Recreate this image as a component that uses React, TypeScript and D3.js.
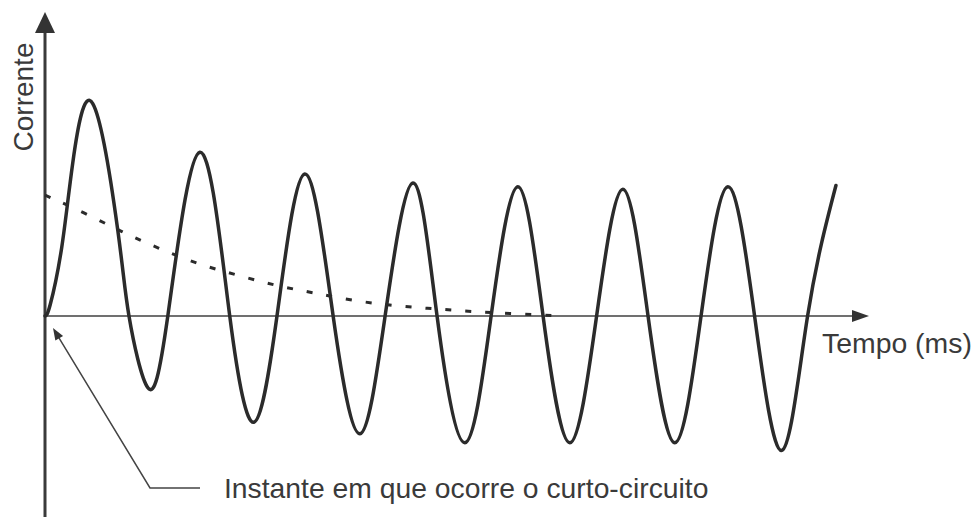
import React, { useEffect, useRef } from "react";
import * as d3 from "d3";

const width = 974;
const height = 517;

// tempo (ms) e corrente (pu)
const peakTimes = [9.1, 29.5, 49.5, 70.1, 90.1, 110.1, 130.1];
const peakValues = [1.66, 1.28, 1.11, 1.04, 1.01, 0.99, 1.01];
const troughTimes = [19.6, 39.8, 60.0, 80.0, 100.0, 120.0, 140.4];
const troughValues = [-0.56, -0.83, -0.92, -0.99, -0.99, -0.99, -1.05];
const fallingZeros = [16.0, 35.2, 54.9, 74.7, 94.9, 114.9, 135.2];
const risingZeros = [0, 23.4, 44.2, 64.8, 85.0, 105.1, 125.0, 145.3];
const extraTimes = [1.0, 3.2, 5.3, 13.9, 150.7];
const extraValues = [0.09, 0.54, 1.2, 0.66, 1.02];

// componente contínua (tracejada)
const dcTimes = [0, 7.6, 14.7, 21.5, 29.0, 36.6, 44.2, 51.4, 59.0, 67.0, 74.7, 82.5, 90.5, 99.0];
const dcValues = [0.945, 0.805, 0.656, 0.531, 0.406, 0.32, 0.234, 0.18, 0.117, 0.078, 0.055, 0.031, 0.016, 0];

const tMax = 157;
const iMin = -1.57;
const iMax = 2.375;

const xLabel = "Tempo (ms)";
const yLabel = "Corrente";
const note = "Instante em que ocorre o curto-circuito";

export default function App() {
  const ref = useRef<SVGSVGElement>(null);

  useEffect(() => {
    const svg = d3.select(ref.current);
    svg.selectAll("*").remove();

    const x = d3.scaleLinear().domain([0, tMax]).range([45, 869]);
    const y = d3.scaleLinear().domain([iMin, iMax]).range([height, 12]);

    const wave: [number, number][] = [
      ...peakTimes.map((t, i) => [t, peakValues[i]] as [number, number]),
      ...troughTimes.map((t, i) => [t, troughValues[i]] as [number, number]),
      ...fallingZeros.map(t => [t, 0] as [number, number]),
      ...risingZeros.map(t => [t, 0] as [number, number]),
      ...extraTimes.map((t, i) => [t, extraValues[i]] as [number, number]),
    ].sort((a, b) => a[0] - b[0]);

    const dc: [number, number][] = dcTimes.map((t, i) => [t, dcValues[i]]);

    const font = "'Liberation Sans', Arial, sans-serif";
    const ink = "#2b2b2b";
    const x0 = x(0);
    const y0 = y(0);

    // eixo x
    svg
      .append("line")
      .attr("x1", x0)
      .attr("x2", x(tMax) - 14)
      .attr("y1", y0)
      .attr("y2", y0)
      .attr("stroke", "#707070")
      .attr("stroke-width", 2);
    svg
      .append("path")
      .attr("d", `M${x(tMax)},${y0}L${x(tMax) - 17},${y0 - 6}L${x(tMax) - 17},${y0 + 6}Z`)
      .attr("fill", "#333");

    // eixo y
    svg
      .append("line")
      .attr("x1", x0)
      .attr("x2", x0)
      .attr("y1", y(iMin))
      .attr("y2", y(iMax) + 18)
      .attr("stroke", "#3a3a3a")
      .attr("stroke-width", 3);
    svg
      .append("path")
      .attr("d", `M${x0},${y(iMax)}L${x0 - 10},${y(iMax) + 21}L${x0 + 10},${y(iMax) + 21}Z`)
      .attr("fill", "#333");

    // componente contínua
    svg
      .append("path")
      .datum(dc)
      .attr("fill", "none")
      .attr("stroke", ink)
      .attr("stroke-width", 3)
      .attr("stroke-dasharray", "6 14")
      .attr(
        "d",
        d3
          .line<[number, number]>()
          .curve(d3.curveBasis)
          .x(d => x(d[0]))
          .y(d => y(d[1]))
      );

    // corrente de curto-circuito
    svg
      .append("path")
      .datum(wave)
      .attr("fill", "none")
      .attr("stroke", ink)
      .attr("stroke-width", 3.5)
      .attr("stroke-linejoin", "round")
      .attr("stroke-linecap", "round")
      .attr(
        "d",
        d3
          .line<[number, number]>()
          .curve(d3.curveNatural)
          .x(d => x(d[0]))
          .y(d => y(d[1]))
      );

    // rótulos
    svg
      .append("text")
      .attr("transform", `translate(33,97) rotate(-90)`)
      .attr("text-anchor", "middle")
      .attr("font-family", font)
      .attr("font-size", 28)
      .attr("fill", "#3a3a3a")
      .text(yLabel);

    svg
      .append("text")
      .attr("x", 822)
      .attr("y", 353)
      .attr("font-family", font)
      .attr("font-size", 28.4)
      .attr("fill", "#3a3a3a")
      .text(xLabel);

    // seta do instante do curto
    const tip: [number, number] = [x0 + 8, y0 + 12];
    const knee: [number, number] = [150, 488];
    const dx = knee[0] - tip[0];
    const dy = knee[1] - tip[1];
    const len = Math.hypot(dx, dy);
    const ux = dx / len;
    const uy = dy / len;
    svg
      .append("path")
      .attr("d", `M${tip[0] + ux * 8},${tip[1] + uy * 8}L${knee[0]},${knee[1]}L200,${knee[1]}`)
      .attr("fill", "none")
      .attr("stroke", "#444")
      .attr("stroke-width", 1.5);
    const bx = tip[0] + ux * 12;
    const by = tip[1] + uy * 12;
    svg
      .append("path")
      .attr("d", `M${tip[0]},${tip[1]}L${bx - uy * 4.5},${by + ux * 4.5}L${bx + uy * 4.5},${by - ux * 4.5}Z`)
      .attr("fill", "#333");

    svg
      .append("text")
      .attr("x", 224)
      .attr("y", 498)
      .attr("font-family", font)
      .attr("font-size", 28.3)
      .attr("fill", "#3a3a3a")
      .text(note);
  }, []);

  return (
    <svg
      ref={ref}
      width={width}
      height={height}
      viewBox={`0 0 ${width} ${height}`}
      style={{ position: "absolute", left: 0, top: 0, background: "#fff" }}
    ></svg>
  );
}
